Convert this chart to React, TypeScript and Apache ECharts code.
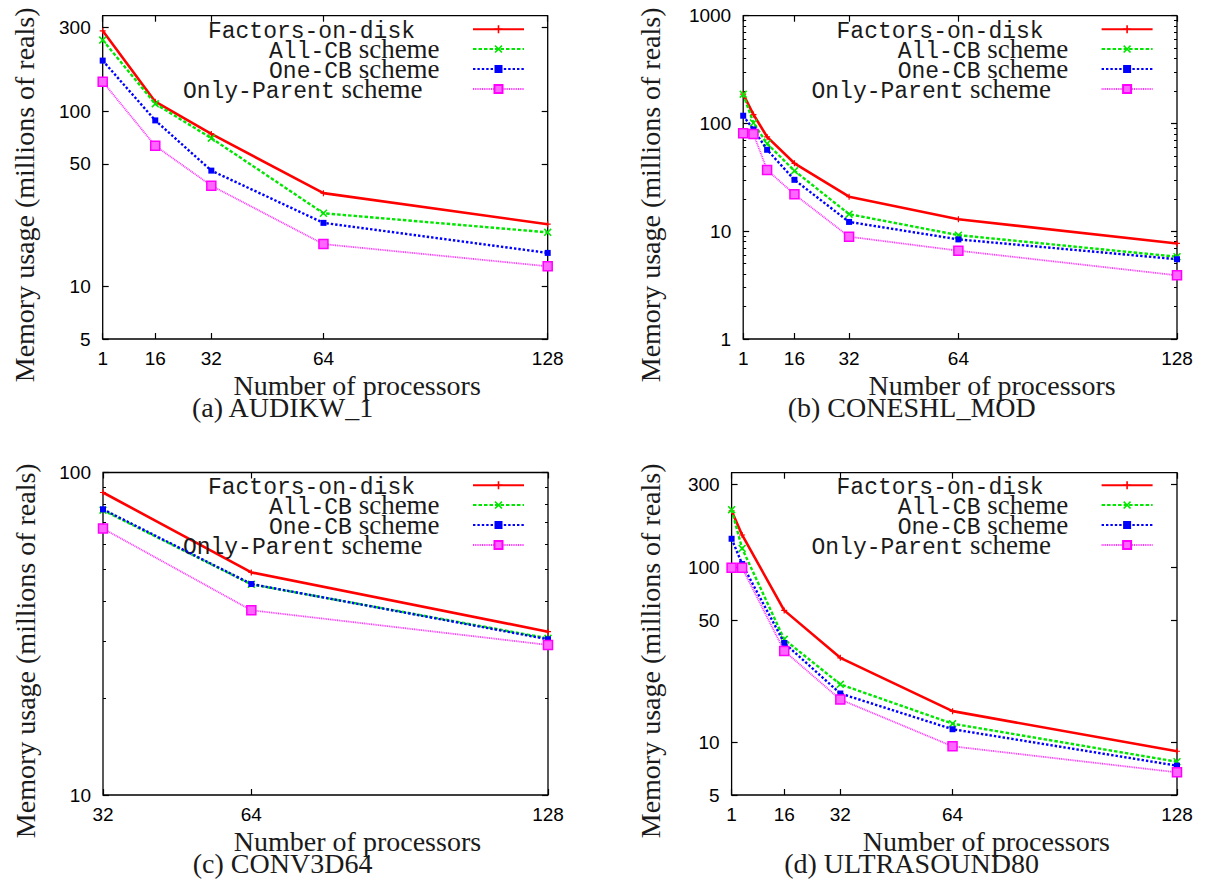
import React, { useEffect, useRef } from 'react';
import * as echarts from 'echarts';

// ---------- data ----------
const seriesNames = ['Factors-on-disk', 'All-CB scheme', 'One-CB scheme', 'Only-Parent scheme'];

const procAudikw = [1, 16, 32, 64, 128];
const audikwFactors = [287, 113, 74, 34, 22.6];
const audikwAllCB = [254, 110, 70, 26.1, 20.3];
const audikwOneCB = [194, 88.4, 45.7, 23, 15.5];
const audikwOnlyParent = [147, 63.3, 37.5, 17.4, 13];

const procConeshl = [1, 4, 8, 16, 32, 64, 128];
const coneshlFactors = [187, 121, 75, 42.7, 20.9, 12.9, 7.7];
const coneshlAllCB = [187, 101, 65, 36.4, 14.4, 9.2, 5.8];
const coneshlOneCB = [118, 88, 57, 30, 12.2, 8.4, 5.5];
const coneshlOnlyParent = [81, 80, 37, 22, 8.9, 6.6, 3.9];

const procConv = [32, 64, 128];
const convFactors = [86.7, 49, 32.1];
const convAllCB = [76.4, 45, 30.6];
const convOneCB = [76.9, 45.1, 30.4];
const convOnlyParent = [67, 37.4, 29.2];

const procUltra = [1, 4, 16, 32, 64, 128];
const ultraFactors = [212, 154, 57, 30.5, 15.1, 8.9];
const ultraAllCB = [215, 129, 38.9, 21.5, 12.8, 7.75];
const ultraOneCB = [146.5, 105, 37.1, 19.05, 11.9, 7.36];
const ultraOnlyParent = [100, 100, 33.4, 17.6, 9.5, 6.74];

const xTicksFull = [1, 16, 32, 64, 128];
const xTicksConv = [32, 64, 128];
const yTicksAudikw = [5, 10, 50, 100, 300];
const yTicksConeshl = [1, 10, 100, 1000];
const yMinorConeshl = [2, 3, 4, 5, 6, 7, 8, 9, 20, 30, 40, 50, 60, 70, 80, 90, 200, 300, 400, 500, 600, 700, 800, 900];
const yTicksConv = [10, 100];
const yMinorConv = [20, 30, 40, 50, 60, 70, 80, 90];
const yTicksUltra = [5, 10, 50, 100, 300];

const xTitle = 'Number of processors';
const yTitle = 'Memory usage (millions of reals)';

// ---------- panels ----------
const panels = [
  {
    caption: '(a) AUDIKW_1', x: procAudikw,
    ys: [audikwFactors, audikwAllCB, audikwOneCB, audikwOnlyParent],
    xMin: 1, xMax: 128, yMin: 5, yMax: 350,
    xTicks: xTicksFull, yTicks: yTicksAudikw, yMinor: [] as number[],
    grid: { left: 102.7, top: 15.7, width: 445, height: 323.3 },
    yNameGap: 64, yNamePad: 35, xNameGap: 36,
    legend: { right: 682, top: 14.7 }, cap: { x: 282.6, y: 407 },
  },
  {
    caption: '(b) CONESHL_MOD', x: procConeshl,
    ys: [coneshlFactors, coneshlAllCB, coneshlOneCB, coneshlOnlyParent],
    xMin: 1, xMax: 128, yMin: 1, yMax: 1000,
    xTicks: xTicksFull, yTicks: yTicksConeshl, yMinor: yMinorConeshl,
    grid: { left: 743.2, top: 15.7, width: 433.8, height: 323.3 },
    yNameGap: 79, yNamePad: 35, xNameGap: 36,
    legend: { right: 53.4, top: 14.7 }, cap: { x: 911.7, y: 407 },
  },
  {
    caption: '(c) CONV3D64', x: procConv,
    ys: [convFactors, convAllCB, convOneCB, convOnlyParent],
    xMin: 32, xMax: 128, yMin: 10, yMax: 100,
    xTicks: xTicksConv, yTicks: yTicksConv, yMinor: yMinorConv,
    grid: { left: 103, top: 472.5, width: 445, height: 322.5 },
    yNameGap: 64, yNamePad: 34, xNameGap: 36.7,
    legend: { right: 682, top: 470.7 }, cap: { x: 282.6, y: 863.3 },
  },
  {
    caption: '(d) ULTRASOUND80', x: procUltra,
    ys: [ultraFactors, ultraAllCB, ultraOneCB, ultraOnlyParent],
    xMin: 1, xMax: 128, yMin: 5, yMax: 350,
    xTicks: xTicksFull, yTicks: yTicksUltra, yMinor: [] as number[],
    grid: { left: 731.6, top: 472.7, width: 445.4, height: 322.3 },
    yNameGap: 67.6, yNamePad: 34, xNameGap: 36.7,
    legend: { right: 53.4, top: 470.7 }, cap: { x: 911.6, y: 863.3 },
  },
];

// ---------- styles ----------
const plusPath = 'path://M4,0H6V4H10V6H6V10H4V6H0V4H4Z';
const crossPath = 'path://M1.4,0L5,3.6L8.6,0L10,1.4L6.4,5L10,8.6L8.6,10L5,6.4L1.4,10L0,8.6L3.6,5L0,1.4Z';

const seriesStyles = [
  { color: '#ff0000', width: 2.6, type: 'solid' as any, symbol: plusPath, size: 6, item: { color: '#ff0000' } },
  { color: '#00e600', width: 2.4, type: [3.5, 2], symbol: crossPath, size: 8, item: { color: '#00e600' } },
  { color: '#0000ff', width: 2.4, type: [2.4, 2], symbol: 'rect', size: 6, item: { color: '#0000ff' } },
  { color: '#ff33ff', width: 1.8, type: [1, 0.8], symbol: 'rect', size: 9, item: { color: '#ff66ff', borderColor: '#ff00ff', borderWidth: 1.5 } },
];

const legendTrail = [53, 28.4, 28.4, 45.6];

const SANS = 'Liberation Sans';
const SERIF = 'Liberation Serif';
const MONO = 'Liberation Mono';
const INK = '#000';
const TXT = '#1a1a1a';

function buildOption() {
  const grids: any[] = [];
  const xAxes: any[] = [];
  const yAxes: any[] = [];
  const series: any[] = [];
  const legends: any[] = [];
  const graphics: any[] = [];

  panels.forEach((p, gi) => {
    grids.push({
      ...p.grid,
      show: true,
      borderColor: INK,
      borderWidth: 1.3,
      backgroundColor: 'transparent',
      containLabel: false,
      outerBoundsMode: 'none',
    });

    const fmt = (v: number) => String(Math.round(v * 1000) / 1000);

    const xMainIdx = xAxes.length;
    xAxes.push({
      gridIndex: gi, type: 'value', position: 'bottom', min: p.xMin, max: p.xMax,
      axisLine: { show: false }, splitLine: { show: false },
      axisTick: { show: true, inside: true, length: 6, customValues: p.xTicks, lineStyle: { color: INK, width: 1.2 } },
      axisLabel: { show: true, customValues: p.xTicks, formatter: fmt, margin: 10, fontSize: 19, fontFamily: SANS, color: INK },
      name: xTitle, nameLocation: 'middle', nameGap: p.xNameGap, nameMoveOverlap: false,
      nameTextStyle: { fontFamily: SERIF, fontSize: 28, lineHeight: 20, color: TXT, padding: [0, 0, 0, 64] },
    });
    xAxes.push({
      gridIndex: gi, type: 'value', position: 'top', min: p.xMin, max: p.xMax,
      axisLine: { show: false }, splitLine: { show: false },
      axisTick: { show: true, inside: true, length: 6, customValues: p.xTicks, lineStyle: { color: INK, width: 1.2 } },
      axisLabel: { show: false },
    });

    const yMainIdx = yAxes.length;
    yAxes.push({
      gridIndex: gi, type: 'log', logBase: 10, position: 'left', min: p.yMin, max: p.yMax,
      axisLine: { show: false }, splitLine: { show: false }, minorTick: { show: false },
      axisTick: { show: true, inside: true, length: 6, customValues: p.yTicks, lineStyle: { color: INK, width: 1.2 } },
      axisLabel: { show: true, customValues: p.yTicks, formatter: fmt, margin: 12, fontSize: 19, fontFamily: SANS, color: INK },
      name: yTitle, nameLocation: 'middle', nameRotate: 90, nameGap: p.yNameGap, nameMoveOverlap: false,
      nameTextStyle: { fontFamily: SERIF, fontSize: 28, color: TXT, padding: [0, p.yNamePad, 0, 0] },
    });
    yAxes.push({
      gridIndex: gi, type: 'log', logBase: 10, position: 'right', min: p.yMin, max: p.yMax,
      axisLine: { show: false }, splitLine: { show: false },
      axisTick: { show: true, inside: true, length: 6, customValues: p.yTicks, lineStyle: { color: INK, width: 1.2 } },
      axisLabel: { show: false },
    });
    if (p.yMinor.length) {
      ['left', 'right'].forEach((pos) => {
        yAxes.push({
          gridIndex: gi, type: 'log', logBase: 10, position: pos, min: p.yMin, max: p.yMax,
          axisLine: { show: false }, splitLine: { show: false },
          axisTick: { show: true, inside: true, length: 3, customValues: p.yMinor, lineStyle: { color: INK, width: 1 } },
          axisLabel: { show: false },
        });
      });
    }

    p.ys.forEach((vals, si) => {
      const st = seriesStyles[si];
      series.push({
        type: 'line',
        name: seriesNames[si],
        xAxisIndex: xMainIdx,
        yAxisIndex: yMainIdx,
        data: p.x.map((xv, k) => [xv, vals[k]]),
        clip: false,
        showSymbol: true,
        symbol: st.symbol,
        symbolSize: st.size,
        lineStyle: { color: st.color, width: st.width, type: st.type },
        itemStyle: st.item,
        emphasis: { disabled: true },
        z: 2 + si,
      });
    });

    const rich: any = {
      m: { fontFamily: MONO, fontSize: 23, lineHeight: 19.3, color: TXT, padding: [6, 0, 0, 0] },
      s: { fontFamily: SERIF, fontSize: 27, lineHeight: 19.3, color: TXT },
    };
    legendTrail.forEach((w, k) => {
      rich['g' + k] = { width: w, lineHeight: 19.3, fontSize: 10 };
    });
    legends.push({
      data: seriesNames,
      orient: 'vertical',
      align: 'right',
      right: p.legend.right,
      top: p.legend.top,
      padding: 0,
      itemGap: -9.1,
      itemWidth: 51,
      itemHeight: 10,
      selectedMode: false,
      formatter: (name: string) => {
        const k = seriesNames.indexOf(name);
        const idx = name.indexOf(' scheme');
        const mono = idx >= 0 ? name.slice(0, idx) : name;
        const rest = idx >= 0 ? '{s| scheme}' : '';
        return `{m|${mono}}${rest}{g${k}| }`;
      },
      textStyle: { color: TXT, rich },
    });

    graphics.push({
      type: 'text',
      x: p.cap.x,
      y: p.cap.y,
      style: {
        text: p.caption,
        fontFamily: SERIF,
        fontSize: 28,
        lineHeight: 20,
        fill: TXT,
        align: 'center',
        verticalAlign: 'middle',
      },
    });
  });

  return {
    animation: false,
    backgroundColor: '#ffffff',
    grid: grids,
    xAxis: xAxes,
    yAxis: yAxes,
    legend: legends,
    series,
    graphic: graphics,
  };
}

export default function App() {
  const ref = useRef<HTMLDivElement>(null);
  useEffect(() => {
    if (!ref.current) return;
    const chart = echarts.init(ref.current, null, { renderer: 'svg', width: 1207, height: 880 });
    chart.setOption(buildOption() as any);
    return () => chart.dispose();
  }, []);
  return (
    <div
      ref={ref}
      style={{ position: 'absolute', left: 0, top: 0, width: 1207, height: 880, background: '#fff' }}
    />
  );
}
